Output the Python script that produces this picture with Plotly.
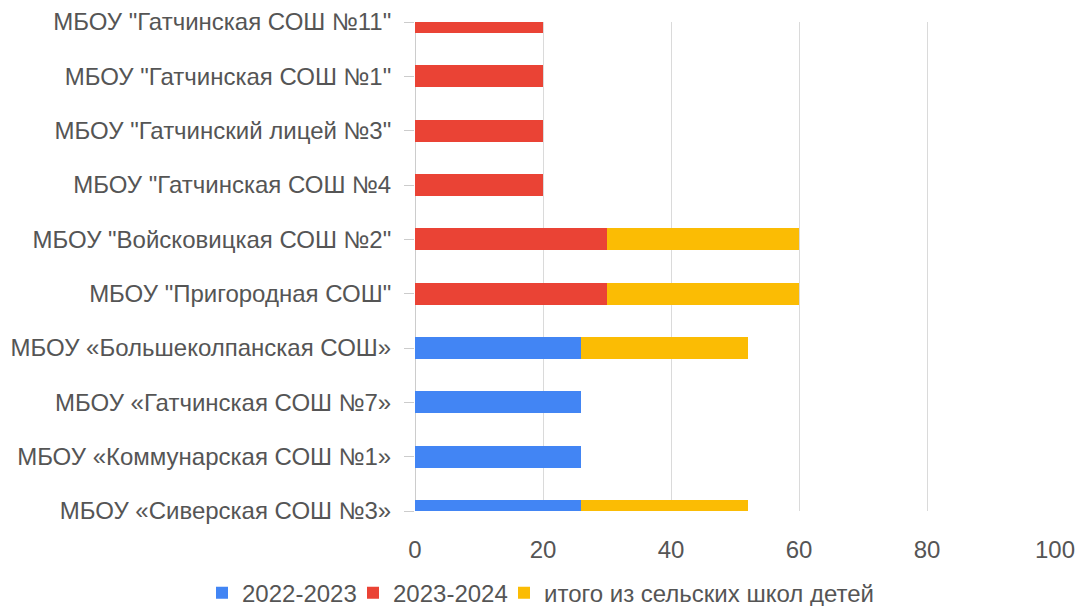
import plotly.graph_objects as go

# Categories, bottom to top
schools = [
    'МБОУ «Сиверская СОШ №3»',
    'МБОУ «Коммунарская СОШ №1»',
    'МБОУ «Гатчинская СОШ №7»',
    'МБОУ «Большеколпанская СОШ»',
    'МБОУ "Пригородная СОШ"',
    'МБОУ "Войсковицкая СОШ №2"',
    'МБОУ "Гатчинская СОШ №4',
    'МБОУ "Гатчинский лицей №3"',
    'МБОУ "Гатчинская СОШ №1"',
    'МБОУ "Гатчинская СОШ №11"',
]
series_names = ['2022-2023', '2023-2024', 'итого из сельских школ детей']
v_2022_2023 = [26, 26, 26, 26, None, None, None, None, None, None]
v_2023_2024 = [None, None, None, None, 30, 30, 20, 20, 20, 20]
v_total_rural = [26, None, None, 26, 30, 30, None, None, None, None]
x_ticks = [0, 20, 40, 60, 80, 100]

colors = ['#4285F4', '#EA4335', '#FBBC04']
FONT = 'Liberation Sans, Arial, sans-serif'
TXT = '#555555'

legend_ids = ['legend', 'legend2', 'legend3']
legend_left_px = [202, 353, 504]

fig = go.Figure()
for name, vals, col, lg in zip(series_names, [v_2022_2023, v_2023_2024, v_total_rural], colors, legend_ids):
    fig.add_trace(go.Bar(
        y=schools, x=vals, name=name, orientation='h',
        marker=dict(color=col, line=dict(width=0)),
        legend=lg,
    ))

legend_common = dict(
    orientation='h', xref='container', yref='paper',
    xanchor='left', y=-0.168, yanchor='middle',
    font=dict(size=24, color=TXT), itemwidth=30,
    bgcolor='rgba(0,0,0,0)',
)

fig.update_layout(
    width=1078, height=606,
    barmode='stack', bargap=0.6,
    paper_bgcolor='white', plot_bgcolor='white',
    margin=dict(l=415, r=23, t=22, b=95, autoexpand=False),
    font=dict(family=FONT, size=24, color=TXT),
    showlegend=True,
    xaxis=dict(
        range=[0, 100], tickvals=x_ticks, showgrid=True, gridcolor='#dadada', gridwidth=1,
        zeroline=True, zerolinecolor='#cccccc', zerolinewidth=1,
        ticks='outside', ticklen=17, tickcolor='rgba(0,0,0,0)',
        tickfont=dict(size=24, color=TXT), fixedrange=True, automargin=False,
    ),
    yaxis=dict(
        type='category', categoryorder='array', categoryarray=schools,
        range=[0, 9], showgrid=False, zeroline=False,
        ticks='outside', ticklen=10, tickcolor='#cccccc', tickwidth=1,
        ticklabelstandoff=8, automargin=False,
        tickfont=dict(size=24, color=TXT), fixedrange=True,
    ),
)
for lg, left in zip(legend_ids, legend_left_px):
    fig.update_layout({lg: dict(legend_common, x=left / 1078)})

fig.write_html('out.html', config={'displayModeBar': False},
               post_script="document.body.style.margin='0';document.body.style.overflow='hidden';")
